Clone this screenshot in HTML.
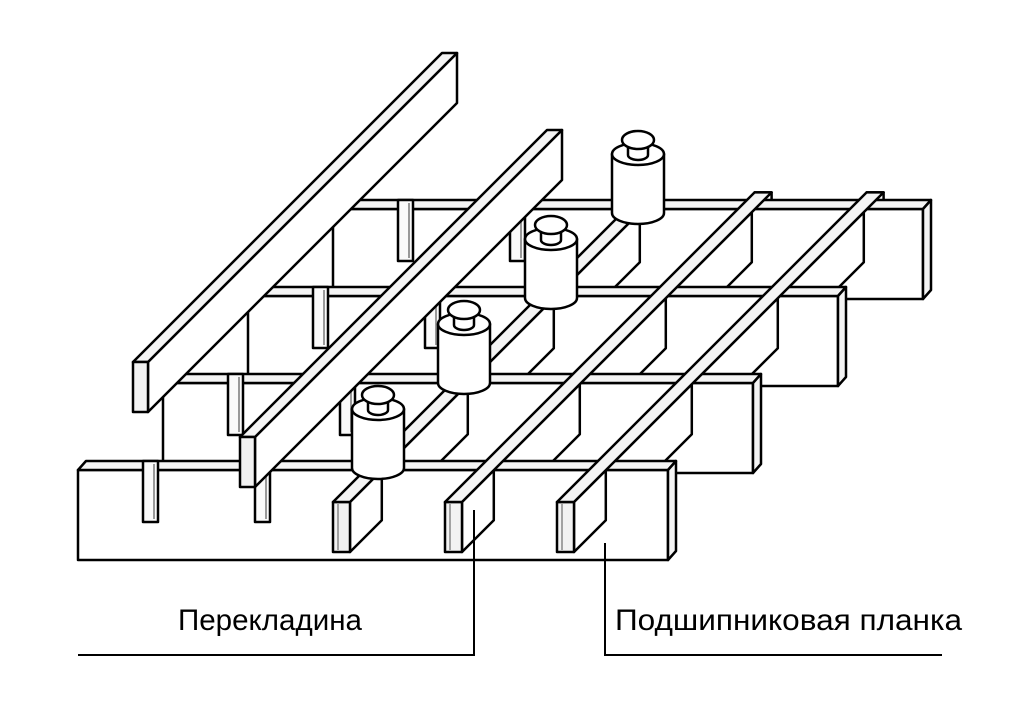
<!DOCTYPE html>
<html><head><meta charset="utf-8"><style>html,body{margin:0;padding:0;background:#fff;width:1024px;height:720px;overflow:hidden}</style></head>
<body>
<svg width="1024" height="720" viewBox="0 0 1024 720" xmlns="http://www.w3.org/2000/svg">
<defs>
<g id="back"><polygon points="642.6,192.4 659.6,192.4 659.6,214 642.6,214"/></g>
<g id="s3"><polygon points="553.8,298.2 553.8,348.2 639.8,262.2 639.8,212.2"/></g>
<g id="s2"><polygon points="467.8,384.2 467.8,434.2 553.8,348.2 553.8,298.2"/></g>
<g id="s1"><polygon points="381.8,470.2 381.8,520.2 467.8,434.2 467.8,384.2"/></g>
<g id="s0"><polygon points="350,502 350,552 381.8,520.2 381.8,470.2"/><rect x="333" y="502" width="17" height="50" fill="#f2f2f2"/><line x1="338" y1="504" x2="338" y2="550" stroke="#888" stroke-width="1.5"/></g>
<g id="top"><polygon points="333,502 350,502 659.6,192.4 642.6,192.4"/></g>
<g id="row">
<rect x="78" y="470" width="590" height="90"/>
<polygon points="78,470 86,461 676,461 668,470" fill="#f4f4f4"/>
<polygon points="668,470 676,461 676,551 668,560" fill="#f4f4f4"/>
<rect x="143" y="461" width="15" height="61" fill="#fafafa"/><line x1="154" y1="464" x2="154" y2="519" stroke="#999" stroke-width="2"/>
<rect x="255" y="461" width="15" height="61" fill="#fafafa"/><line x1="266" y1="464" x2="266" y2="519" stroke="#999" stroke-width="2"/>
</g>
<g id="wt">
<path d="M612,154 L612,213 A26 11 0 0 0 664,213 L664,154 Z"/>
<ellipse cx="638" cy="154" rx="26" ry="11"/>
<path d="M628,140 L628,155 A10 5 0 0 0 648,155 L648,140 Z"/>
<ellipse cx="638" cy="140" rx="16" ry="9"/>
</g>
</defs>
<g fill="#fff" stroke="#000" stroke-width="2.5" stroke-linejoin="round">
<use href="#back"/><use href="#back" x="112"/><use href="#back" x="224"/>
<use href="#row" transform="translate(255,-261)"/>
<use href="#s3"/><use href="#s3" x="112"/><use href="#s3" x="224"/>
<use href="#row" transform="translate(170,-174)"/>
<use href="#s2"/><use href="#s2" x="112"/><use href="#s2" x="224"/>
<use href="#row" transform="translate(85,-87)"/>
<use href="#s1"/><use href="#s1" x="112"/><use href="#s1" x="224"/>
<use href="#row"/>
<use href="#s0"/><use href="#s0" x="112"/><use href="#s0" x="224"/>
<use href="#top" fill="#f4f4f4"/><use href="#top" x="112" fill="#f4f4f4"/><use href="#top" x="224" fill="#f4f4f4"/>
<use href="#wt"/>
<use href="#wt" transform="translate(-87,85)"/>
<use href="#wt" transform="translate(-174,170)"/>
<use href="#wt" transform="translate(-260,255)"/>
<g>
<polygon points="148,362 148,412 457,103 457,53"/>
<polygon points="133,362 148,362 457,53 442,53" fill="#f4f4f4"/>
<rect x="133" y="362" width="15" height="50" fill="#f2f2f2"/>
</g>
<g>
<polygon points="255,437 255,487 562,180 562,130"/>
<polygon points="240,437 255,437 562,130 547,130" fill="#f4f4f4"/>
<rect x="240" y="437" width="15" height="50" fill="#f2f2f2"/>
</g>
</g>
<g stroke="#000" stroke-width="2" fill="none">
<polyline points="474,510 474,655 78,655"/>
<polyline points="605,543 605,655 942,655"/>
</g>
<g font-family="'Liberation Sans', sans-serif" font-size="30" fill="#000">
<text x="178" y="630" textLength="184" lengthAdjust="spacingAndGlyphs">Перекладина</text>
<text x="615" y="630" textLength="347" lengthAdjust="spacingAndGlyphs">Подшипниковая планка</text>
</g>
</svg>
</body></html>
